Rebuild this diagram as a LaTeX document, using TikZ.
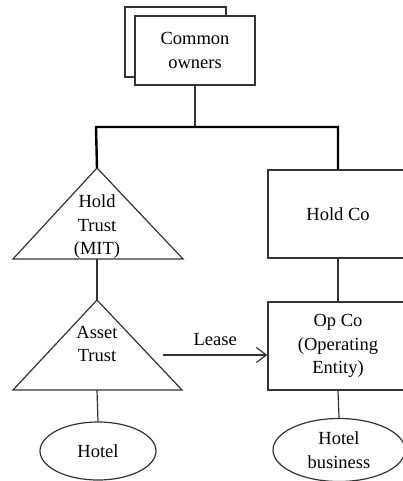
\documentclass[tikz,border=0pt]{standalone}
\usepackage{fontspec}
\setmainfont{Liberation Serif}
\usetikzlibrary{arrows.meta,shapes.geometric}
\tikzset{
  ln/.style={line width=1.2pt,draw=black!80},
  bar/.style={line width=2.4pt,draw=black},
  entbox/.style={ln,fill=white,minimum width=140pt,minimum height=88pt,align=center},
  ownbox/.style={ln,fill=white,minimum width=120pt,minimum height=69pt,align=center},
  asset/.style={ln,ellipse,inner sep=0pt,align=center},
  txt/.style={align=center,inner sep=0pt}
}
\begin{document}
\begin{tikzpicture}[x=1pt,y=-1pt,font=\fontsize{18.5}{23.5}\selectfont]
\useasboundingbox (0,0) rectangle (403,481);
\draw[ln,fill=white] (125,7) rectangle (226,77);
\node[ownbox] (cown) at (195,50.5) {Common\\owners};
\coordinate (jn) at (195,127);
\coordinate (bl) at (96,127);
\coordinate (br) at (338,127);
\draw[ln] (cown.south) -- (jn);
% trusts
\coordinate (mit) at (97,168);
\draw[ln] (mit) -- (183,259) -- (13,259) -- cycle;
\node[txt] (mittxt) at (97,227) {Hold\\Trust\\(MIT)};
\coordinate (mitb) at (97,259);
\coordinate (at) at (97,300);
\draw[ln] (at) -- (182,390) -- (13,390) -- cycle;
\node[txt] (attxt) at (97,344) {Asset\\Trust};
\coordinate (atb) at (97,390);
% companies
\node[entbox] (hco) at (338,214) {Hold Co};
\node[entbox] (opco) at (338,346) {Op Co\\(Operating\\Entity)};
\node[asset,minimum width=116pt,minimum height=58pt] (hotel) at (98,451) {Hotel};
\node[asset,minimum width=132pt,minimum height=63pt] (hbiz) at (339,450) {Hotel\\business};
\draw[bar] (mit) -- (bl) -- (br) -- (hco.north);
\draw[ln] (mitb) -- (at);
\draw[ln] (atb) -- (hotel.north);
\draw[ln] (hco.south) -- (opco.north);
\draw[ln] (opco.south) -- (hbiz.north);
\coordinate (ls) at (163,355);
\draw[ln,-{Straight Barb[length=10pt,width=15pt]}] (ls) -- (ls -| opco.west) node[midway,above=5pt] (lease) {Lease};
\end{tikzpicture}
\end{document}
